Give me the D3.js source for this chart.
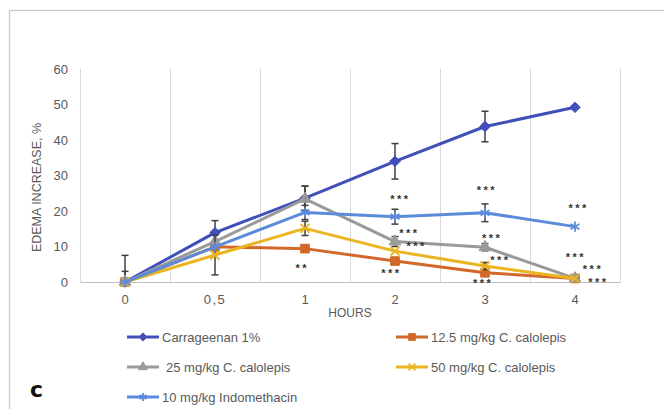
<!DOCTYPE html>
<html>
<head>
<meta charset="utf-8">
<script src="https://cdn.jsdelivr.net/npm/d3@7"></script>
<style>
  body { margin: 0; background: #fff; }
  svg { font-family: 'Liberation Sans', Arial, sans-serif; }
</style>
</head>
<body>
<svg id="chart" width="664" height="409"></svg>
<script>
// chart data
var hours = ['0', '0,5', '1', '2', '3', '4']
var yTicks = [0, 10, 20, 30, 40, 50, 60]

var seriesNames = [
  'Carrageenan 1%',
  '12.5 mg/kg C. calolepis',
  '25 mg/kg C. calolepis',
  '50 mg/kg C. calolepis',
  '10 mg/kg Indomethacin'
]
var carrageenan = [0, 13.9, 23.6, 34, 43.8, 49.2]
var dose125 = [0, 9.9, 9.4, 5.9, 2.6, 1.0]
var dose25 = [0, 11.4, 23.4, 11.4, 9.8, 1.0]
var dose50 = [0, 7.6, 15.1, 8.7, 4.5, 1.0]
var indomethacin = [0, 9.9, 19.6, 18.4, 19.5, 15.6]

var errCarrageenan = [7.5, 3.4, 3.4, 5, 4.3, 0]
var err125 = [0, 0, 1, 0, 0, 0]
var err25 = [3, 0, 3.6, 1.4, 1, 0]
var err50 = [0, 5.6, 2, 0, 1, 0]
var errIndomethacin = [0, 0, 2, 2.1, 2.5, 0]

// significance marks: hour, y value (in %), sideways shift (fraction of band)
var signifHour = ['1', '2', '2', '2', '2', '3', '3', '3', '3', '4', '4', '4', '4']
var signifValue = [4.6, 24, 14.4, 10.6, 3.1, 26.6, 13, 6.8, 0.4, 21.5, 7.6, 4.2, 0.7]
var signifShift = [-0.03, 0.06, 0.16, 0.24, -0.04, 0.02, 0.08, 0.17, -0.02, 0.04, 0.01, 0.2, 0.26]
var signifText = ['**', '***', '***', '***', '***', '***', '***', '***', '***', '***', '***', '***', '***']

var colors = ['#4050b8', '#d2692a', '#9a9a9a', '#eab520', '#5b8bd9']
var symbols = [d3.symbolDiamond2, d3.symbolSquare, d3.symbolTriangle, d3.symbolX, d3.symbolAsterisk]
var symbolSizes = [70, 75, 60, 55, 75]

var values = [carrageenan, dose125, dose25, dose50, indomethacin]
var errors = [errCarrageenan, err125, err25, err50, errIndomethacin]

var series = seriesNames.map(function (name, i) {
  return {
    name: name,
    color: colors[i],
    symbol: symbols[i],
    size: symbolSizes[i],
    points: hours.map(function (h, j) {
      return { hour: h, value: values[i][j], err: errors[i][j] }
    })
  }
})

var svg = d3.select('#chart')
var margin = { top: 69, right: 44, bottom: 127, left: 80 }
var width = 664 - margin.left - margin.right
var height = 409 - margin.top - margin.bottom

// outer frame
svg.append('rect')
  .attr('x', 9.5).attr('y', 10.5)
  .attr('width', 700).attr('height', 420)
  .attr('fill', 'none')
  .attr('stroke', '#c8c8c8')
  .attr('stroke-width', 1.3)

var g = svg.append('g').attr('transform', 'translate(' + margin.left + ',' + margin.top + ')')

var x = d3.scaleBand().domain(hours).range([0, width]).padding(0)
var y = d3.scaleLinear().domain([0, 60]).range([height, 0])

// vertical gridlines on category edges
var edges = hours.map(function (h) { return x(h) }).concat([width])
g.append('g')
  .selectAll('line')
  .data(edges)
  .enter()
  .append('line')
  .attr('x1', function (d) { return d + 0.5 })
  .attr('x2', function (d) { return d + 0.5 })
  .attr('y1', 0)
  .attr('y2', height)
  .attr('stroke', '#d9d9d9')
  .attr('stroke-width', 1)

// y axis (labels only)
var yAxis = g.append('g')
  .call(d3.axisLeft(y).tickValues(yTicks).tickSize(0).tickPadding(12))
yAxis.select('.domain').remove()
yAxis.selectAll('text')
  .attr('fill', '#595959')
  .style('font-size', '13px')

// x axis
var xAxis = g.append('g')
  .attr('transform', 'translate(0,' + height + ')')
  .call(d3.axisBottom(x).tickSize(0).tickPadding(13))
xAxis.select('.domain').attr('stroke', '#bfbfbf').attr('stroke-width', 1.2)
xAxis.selectAll('text')
  .attr('fill', '#595959')
  .style('font-size', '13px')
  .style('letter-spacing', function (d) { return d === '0,5' ? '1.5px' : null })

// axis titles
g.append('text')
  .attr('x', width / 2)
  .attr('y', height + 35)
  .attr('text-anchor', 'middle')
  .attr('fill', '#595959')
  .style('font-size', '12px')
  .text('HOURS')

g.append('text')
  .attr('transform', 'translate(' + (-39) + ',' + (height / 2 + 12) + ') rotate(-90)')
  .attr('text-anchor', 'middle')
  .attr('fill', '#595959')
  .style('font-size', '12.5px')
  .text('EDEMA INCREASE, %')

// keep error bars inside the plot
svg.append('defs').append('clipPath').attr('id', 'plot-clip')
  .append('rect')
  .attr('x', -10).attr('y', -10)
  .attr('width', width + 20).attr('height', height + 10)

var cx = function (d) { return x(d.hour) + x.bandwidth() / 2 }
var line = d3.line()
  .x(cx)
  .y(function (d) { return y(d.value) })

var seriesG = g.append('g')
  .selectAll('g')
  .data(series)
  .enter()
  .append('g')

// error bars
var errG = seriesG.append('g')
  .attr('clip-path', 'url(#plot-clip)')
  .attr('stroke', '#404040')
  .attr('stroke-width', 1.5)
  .selectAll('g')
  .data(function (d) { return d.points.filter(function (p) { return p.err > 0 }) })
  .enter()
  .append('g')
errG.append('line')
  .attr('x1', cx).attr('x2', cx)
  .attr('y1', function (d) { return y(d.value + d.err) })
  .attr('y2', function (d) { return y(d.value - d.err) })
errG.append('line')
  .attr('x1', function (d) { return cx(d) - 3.5 })
  .attr('x2', function (d) { return cx(d) + 3.5 })
  .attr('y1', function (d) { return y(d.value + d.err) })
  .attr('y2', function (d) { return y(d.value + d.err) })
errG.append('line')
  .attr('x1', function (d) { return cx(d) - 3.5 })
  .attr('x2', function (d) { return cx(d) + 3.5 })
  .attr('y1', function (d) { return y(d.value - d.err) })
  .attr('y2', function (d) { return y(d.value - d.err) })

// lines
seriesG.append('path')
  .attr('d', function (d) { return line(d.points) })
  .attr('fill', 'none')
  .attr('stroke', function (d) { return d.color })
  .attr('stroke-width', 3)
  .attr('stroke-linejoin', 'round')

// markers
function drawMarker(sel, s, scale) {
  var k = scale || 1
  var stroked = s.symbol === d3.symbolX || s.symbol === d3.symbolAsterisk
  sel.attr('d', d3.symbol().type(s.symbol).size(s.size * k)())
    .attr('fill', stroked ? 'none' : s.color)
    .attr('stroke', s.color)
    .attr('stroke-width', stroked ? 1.8 : 1)
}
seriesG.each(function (s) {
  d3.select(this)
    .selectAll('path.marker')
    .data(s.points)
    .enter()
    .append('path')
    .attr('class', 'marker')
    .attr('transform', function (d) { return 'translate(' + cx(d) + ',' + y(d.value) + ')' })
    .call(drawMarker, s)
})

// significance asterisks
g.append('g')
  .selectAll('text')
  .data(signifText)
  .enter()
  .append('text')
  .attr('x', function (d, i) { return x(signifHour[i]) + x.bandwidth() * (0.5 + signifShift[i]) })
  .attr('y', function (d, i) { return y(signifValue[i]) + 6 })
  .attr('text-anchor', 'middle')
  .attr('fill', '#333')
  .attr('font-weight', 'bold')
  .style('font-size', '11px')
  .style('letter-spacing', '2.5px')
  .text(function (d) { return d })

// legend
var legendCols = [127, 396]
var legendRows = [337, 367, 397]
var legend = svg.append('g')
  .selectAll('g')
  .data(series)
  .enter()
  .append('g')
  .attr('transform', function (d, i) {
    return 'translate(' + legendCols[i % 2] + ',' + legendRows[Math.floor(i / 2)] + ')'
  })
legend.append('line')
  .attr('x1', 0).attr('x2', 32)
  .attr('y1', 0).attr('y2', 0)
  .attr('stroke', function (d) { return d.color })
  .attr('stroke-width', 3)
legend.append('path')
  .attr('transform', 'translate(16,0)')
  .each(function (s) { d3.select(this).call(drawMarker, s, 0.6) })
legend.append('text')
  .attr('x', function (d, i) { return i === 2 ? 39 : 35 })
  .attr('y', 0)
  .attr('dy', '0.35em')
  .attr('fill', '#595959')
  .style('font-size', '13px')
  .text(function (d) { return d.name })

// panel letter
svg.append('text')
  .attr('x', 30)
  .attr('y', 397)
  .attr('font-weight', 'bold')
  .style('font-size', '22px')
  .style('font-family', "'DejaVu Sans', sans-serif")
  .attr('fill', '#111')
  .text('c')
</script>
</body>
</html>
